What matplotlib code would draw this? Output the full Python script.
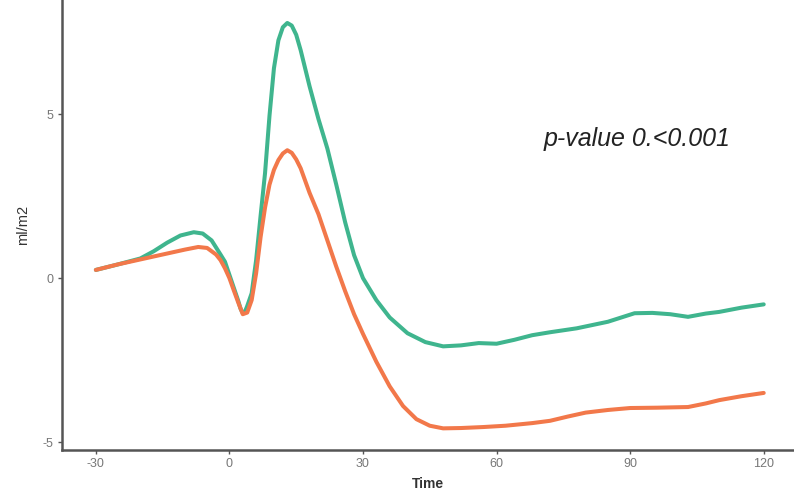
import matplotlib
matplotlib.use("Agg")
import matplotlib.pyplot as plt

plt.rcParams['font.family'] = ['Liberation Sans', 'DejaVu Sans']
plt.rcParams['axes.unicode_minus'] = False

green_x = [-30, -25, -20, -17, -14, -11, -8, -6, -4, -2, -1, 0, 1, 2, 2.5, 3, 3.5, 4, 5, 6,
           7, 8, 9, 10, 11, 12, 13, 14, 15, 16, 17, 18, 19, 20, 22, 24, 26, 28, 30, 33,
           36, 40, 44, 48, 52, 56, 60, 64, 68, 72, 78, 85, 88, 91, 95, 99, 103, 107, 110, 115, 120]
green_y = [0.25, 0.42, 0.60, 0.82, 1.08, 1.30, 1.40, 1.36, 1.15, 0.72, 0.50, 0.10, -0.30, -0.70, -0.93, -1.07, -1.02, -0.85, -0.46, 0.55,
           1.90, 3.20, 4.95, 6.40, 7.25, 7.65, 7.78, 7.70, 7.42, 6.95, 6.40, 5.85, 5.35, 4.85, 3.95, 2.85, 1.70, 0.70, 0.0, -0.67,
           -1.20, -1.68, -1.95, -2.08, -2.05, -1.98, -2.0, -1.88, -1.74, -1.65, -1.53, -1.33, -1.2, -1.07, -1.06, -1.1, -1.18, -1.08, -1.03, -0.9, -0.8]

orange_x = [-30, -25, -20, -15, -10, -7, -5, -3, -2, -1, 0, 1, 2, 3, 4, 5, 6, 7, 8, 9,
            10, 11, 12, 13, 14, 15, 16, 18, 20, 22, 24, 26, 28, 30, 33, 36, 39, 42, 45, 48,
            52, 57, 62, 68, 72, 76, 80, 85, 90, 96, 103, 107, 110, 115, 120]
orange_y = [0.25, 0.42, 0.57, 0.72, 0.87, 0.95, 0.92, 0.72, 0.55, 0.30, 0.0, -0.38, -0.75, -1.10, -1.05, -0.67, 0.15, 1.25, 2.15, 2.85,
            3.30, 3.60, 3.80, 3.90, 3.82, 3.62, 3.35, 2.60, 1.95, 1.15, 0.35, -0.40, -1.10, -1.70, -2.55, -3.30, -3.90, -4.30, -4.50, -4.58,
            -4.57, -4.54, -4.50, -4.42, -4.35, -4.22, -4.10, -4.02, -3.96, -3.95, -3.93, -3.82, -3.72, -3.60, -3.50]

x_ticks = [-30, 0, 30, 60, 90, 120]
y_ticks = [-5, 0, 5]
annotation = "p-value 0.<0.001"

fig = plt.figure(figsize=(7.94, 4.92), dpi=100)
ax = fig.add_axes([62/794, 42/492, 1 - 62/794, 1 - 42/492])

ax.plot(green_x, green_y, color="#3fb58e", lw=2.9, solid_capstyle='round', solid_joinstyle='round')
ax.plot(orange_x, orange_y, color="#f2784a", lw=2.9, solid_capstyle='round', solid_joinstyle='round')

ax.set_xlim(-37.6, 126.8)
ax.set_ylim(-5.24, 8.48)
ax.set_xticks(x_ticks)
ax.set_yticks(y_ticks)
ax.tick_params(axis='both', direction='out', length=3, width=1, colors='#555555',
               labelsize=9, labelcolor='#777777', pad=3)

for s in ['top', 'right']:
    ax.spines[s].set_visible(False)
for s in ['left', 'bottom']:
    ax.spines[s].set_color('#555555')
    ax.spines[s].set_linewidth(1.8)

ax.set_xlabel("Time", fontsize=10, color='#333333', fontweight='bold', labelpad=5)
ax.set_ylabel("ml/m2", fontsize=10.5, color='#333333', labelpad=9)

ax.text(91.5, 4.25, annotation, fontsize=18, style='italic', color='#222222',
        ha='center', va='center')

fig.savefig("out.png", dpi=100)
